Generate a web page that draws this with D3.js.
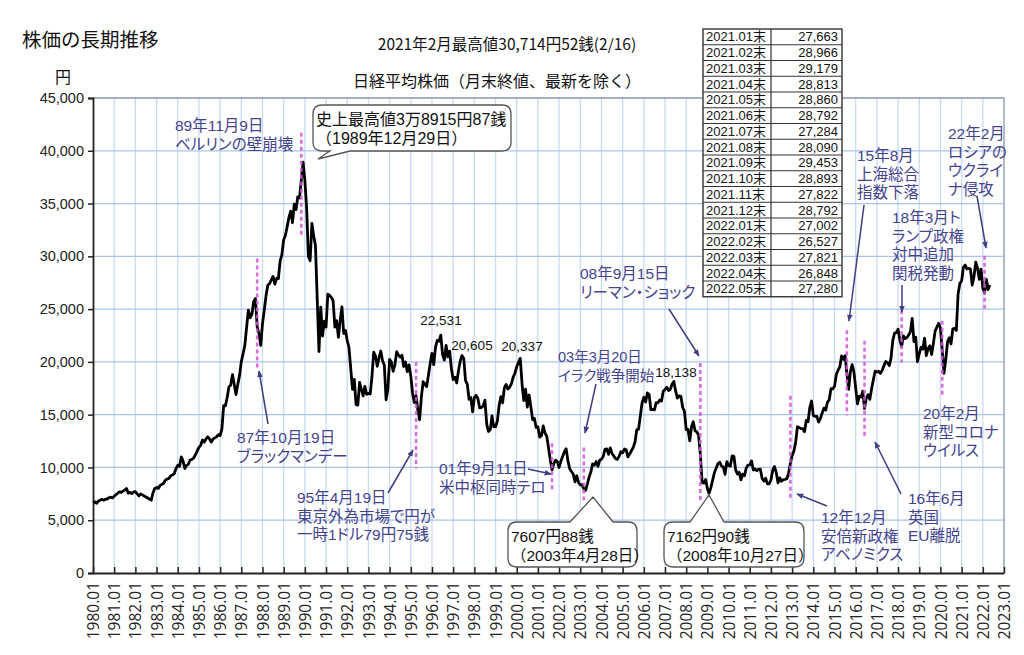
<!DOCTYPE html>
<html>
<head>
<meta charset="utf-8">
<script src="https://cdn.jsdelivr.net/npm/d3@7"></script>
<style>
body{margin:0;background:#fff;}
svg{display:block;}
.jp{font-family:"Noto Sans CJK JP",sans-serif;}
.mix{font-family:"Liberation Sans","Noto Sans CJK JP",sans-serif;font-feature-settings:"palt";}
.mixw{font-family:"Liberation Sans","Noto Sans CJK JP",sans-serif;}
.num{font-family:"Liberation Sans",Arial,sans-serif;}
</style>
</head>
<body>
<div id="chart"></div>
<script>

// monthly closes (月末終値)
var closes1980s = [
	6680,6760,6600,6800,6900,6980,6900,6990,7010,7130,7180,7116,
	7280,7420,7560,7680,7640,7760,7860,8000,7560,7640,7520,7681,
	7700,7500,7300,7500,7400,7300,7200,7100,7000,6900,7600,8016,
	8100,8000,8300,8400,8500,8800,8900,8950,9200,9300,9400,9893,
	10200,10100,11000,10600,9900,10200,10300,10700,10750,10900,11200,11542,
	11900,12100,12600,12400,12700,12900,12700,12400,12700,12800,12900,13113,
	13020,13640,15860,15830,16620,17650,17800,18800,17850,16910,17850,18701,
	20020,20770,21570,23270,24900,24180,24490,25700,26010,23330,22690,21564,
	23620,24900,26260,27260,27420,27770,28100,27370,27920,27900,29580,30159,
	31580,31990,32840,33710,34270,33190,34950,34430,35640,35550,37270,38916
];
var closes1990s = [
	37189,34592,29980,29585,33131,31940,31035,25978,20984,25194,22454,23849,
	23293,26409,26292,26111,25790,23291,23900,22336,23916,25222,22687,22984,
	22023,21339,19346,17391,18348,15952,15910,18061,17399,16767,17684,16925,
	17024,16953,18591,20919,20552,19590,20380,21027,20106,19703,16408,17417,
	20229,19997,19112,19725,20974,20644,20449,20629,19564,19990,19076,19723,
	18650,17053,16140,16807,15437,14517,16678,18117,17913,17655,18744,19868,
	20813,19734,21407,22041,21956,22531,20693,20167,21556,20467,21020,19361,
	18330,18557,18003,19151,20069,20605,20331,18229,17888,16459,16636,15259,
	16628,16831,16527,15641,15671,15830,16379,14108,13406,13564,14883,13842,
	13859,14368,15837,16702,16112,17530,17862,17437,17605,17942,18558,18934
];
var closes2000s = [
	19540,19960,20337,17974,16332,17411,15727,16861,15747,14540,14649,13786,
	13844,12884,13000,13934,13262,12969,11861,10714,9775,10366,10697,10543,
	9998,10588,11025,11493,11764,10622,9878,9620,9383,8640,9216,8579,
	8340,8363,7973,7831,8425,9083,9563,10344,10219,10560,10101,10677,
	10784,11042,11715,11762,11236,11859,11326,11082,10824,10771,11069,11489,
	11388,11741,11669,11009,11277,11584,11900,12414,13574,13607,14872,16111,
	16650,16206,17060,16907,15468,15505,15457,16141,16128,16399,16274,17226,
	17383,17604,17288,17400,17876,18138,17249,16569,16786,16737,15681,15308,
	13592,13604,12526,13850,14339,13482,13377,13073,11260,8577,8512,8860,
	7994,7568,8110,8828,9523,9958,10357,10493,10134,10035,9346,10546
];
var closes2010s = [
	10198,10126,11090,11057,9769,9383,9537,8824,9369,9202,9937,10229,
	10238,10624,9755,9850,9694,9816,9833,8955,8700,8988,8435,8455,
	8803,9723,10084,9521,8543,9007,8695,8840,8870,8928,9446,10395,
	11139,11559,12398,13861,13775,13677,13668,13389,14456,14328,15662,16291,
	14915,14841,14828,14304,14632,15162,15621,15425,16174,16414,17460,17451,
	17674,18798,19207,19520,20563,20236,20585,18890,17388,19083,19747,19034,
	17518,16027,16759,16666,17235,15576,16569,16887,16450,17425,18308,19114,
	19041,19119,18909,19197,19651,20033,19925,19646,20356,22012,22725,22765,
	23098,22068,21454,22468,22202,22305,22554,22865,24120,21920,22351,20015,
	20773,21385,21206,22259,20601,21276,21521,20704,21756,22927,23294,23657
];
var closes2020 = [23205,21143,18917,20194,21878,22288,21710,23140,23185,22977,26434,27444];

// table in the upper right (2021.01 .. 2022.05)
var tableMonths = ["2021.01","2021.02","2021.03","2021.04","2021.05","2021.06","2021.07","2021.08",
	"2021.09","2021.10","2021.11","2021.12","2022.01","2022.02","2022.03","2022.04","2022.05"];
var tableValues = [27663,28966,29179,28813,28860,28792,27284,28090,29453,28893,27822,28792,27002,26527,27821,26848,27280];

var yTicks = [0,5000,10000,15000,20000,25000,30000,35000,40000,45000];
var xTickYears = d3.range(1980, 2024);

// events: month of the dashed marker and its extent (yen)
var eventMonths = ["1987.10","1989.11","1995.04","2001.09","2003.03","2008.09","2012.12","2015.08","2016.06","2018.03","2020.02","2022.02"];
var eventLo = [19200,32000,9900,7850,6900,6900,6900,14950,12850,19950,16800,24860];
var eventHi = [29800,41700,20000,12300,11900,19900,16800,23000,22000,24900,23900,30060];

var peakLabels = ["22,531","20,605","20,337","18,138"];

var W = 1024, H = 655;

var svg = d3.select("#chart").append("svg")
	.attr("width",W).attr("height",H)
	.attr("viewBox","0 0 "+W+" "+H);

var x = d3.scaleLinear().domain([1980,2023]).range([93,1004]),
	y = d3.scaleLinear().domain([0,45000]).range([573,98]);

function ym(s){ var p = s.split("."); return +p[0] + (+p[1]-1)/12; }

var series = [].concat(closes1980s, closes1990s, closes2000s, closes2010s, closes2020, tableValues)
	.map(function(v,i){ return {t:1980+i/12, v:v}; });

// grid
svg.append("g").selectAll("line").data(xTickYears.slice(1,-1)).enter().append("line")
	.attr("x1",function(d){return x(d)}).attr("x2",function(d){return x(d)})
	.attr("y1",y(45000)).attr("y2",y(0))
	.style("stroke","#cbdaf3").style("stroke-width",1.3);

svg.append("g").selectAll("line").data(yTicks.slice(1,-1)).enter().append("line")
	.attr("x1",x(1980)).attr("x2",x(2023))
	.attr("y1",function(d){return y(d)}).attr("y2",function(d){return y(d)})
	.style("stroke","#a9c3ec").style("stroke-width",1.3);

// frame top / right
svg.append("path")
	.attr("d","M"+x(1980)+","+y(45000)+"H"+x(2023)+"V"+y(0))
	.style("fill","none").style("stroke","#8a96aa").style("stroke-width",1.3);

// axes
var yAxis = svg.append("g").attr("transform","translate("+x(1980)+",0)")
	.call(d3.axisLeft(y).tickValues(yTicks).tickSize(5).tickPadding(4).tickFormat(d3.format(",")));
yAxis.selectAll("text").attr("class","num").style("font-size","14.5px").style("fill","#222");
yAxis.select(".domain").style("stroke","#222").style("stroke-width",1.8);
yAxis.selectAll(".tick line").style("stroke","#222").style("stroke-width",1.5);

var xAxis = svg.append("g").attr("transform","translate(0,"+y(0)+")")
	.call(d3.axisBottom(x).tickValues(xTickYears).tickSize(-6).tickSizeOuter(0)
		.tickFormat(function(d){return d+".01"}));
xAxis.selectAll("text")
	.attr("transform","rotate(-90)").attr("x",-9).attr("y",0).attr("dy","0.36em")
	.style("text-anchor","end")
	.style("font-family","'Open Sans',sans-serif").style("font-size","15.5px").style("fill","#222");
xAxis.select(".domain").style("stroke","#222").style("stroke-width",1.8);
xAxis.selectAll(".tick line").style("stroke","#222").style("stroke-width",1.5);

// price line
var line = d3.line().x(function(d){return x(d.t)}).y(function(d){return y(d.v)});
svg.append("path").datum(series)
	.attr("d",line)
	.style("fill","none").style("stroke","#000").style("stroke-width",2.8)
	.style("stroke-linejoin","round");

// dashed event markers
svg.append("g").selectAll("line").data(eventMonths).enter().append("line")
	.attr("x1",function(d){return x(ym(d))}).attr("x2",function(d){return x(ym(d))})
	.attr("y1",function(d,i){return y(eventHi[i])}).attr("y2",function(d,i){return y(eventLo[i])})
	.style("stroke","#d058dc").style("stroke-width",2.6).style("stroke-dasharray","4,3")
	.style("opacity",0.85);

// arrows
svg.append("defs").append("marker")
	.attr("id","arr").attr("viewBox","0 0 10 8").attr("refX",9).attr("refY",4)
	.attr("markerWidth",7).attr("markerHeight",6).attr("markerUnits","userSpaceOnUse")
	.attr("orient","auto")
	.append("path").attr("d","M0,0L10,4L0,8Z").style("fill","#3e3e80");

var arrows = [
	[268,424,259,371],[388,493,413,450],[528,469,551,474],[596,384,585,433],
	[669,309,699,356],[827,506,797,494],[901,494,875,442],[864,205,849,321],
	[902,285,902,312],[977,196,986,248]
];
svg.append("g").selectAll("line").data(arrows).enter().append("line")
	.attr("x1",function(d){return d[0]}).attr("y1",function(d){return d[1]})
	.attr("x2",function(d){return d[2]}).attr("y2",function(d){return d[3]})
	.style("stroke","#3e3e80").style("stroke-width",1.5)
	.attr("marker-end","url(#arr)");

// event notes
var notes = [
	{x:175,y:125,lines:["89年11月9日","ベルリンの壁崩壊"]},
	{x:237,y:437,lines:["87年10月19日","ブラックマンデー"]},
	{x:297,y:497,lines:["95年4月19日","東京外為市場で円が","一時1ドル79円75銭"]},
	{x:439,y:468,lines:["01年9月11日","米中枢同時テロ"]},
	{x:558,y:357,fs:14.5,lines:["03年3月20日","イラク戦争開始"]},
	{x:580,y:273,lines:["08年9月15日","リーマン・ショック"]},
	{x:821,y:517,lines:["12年12月","安倍新政権","アベノミクス"]},
	{x:908,y:498,lines:["16年6月","英国","EU離脱"]},
	{x:923,y:413,lines:["20年2月","新型コロナ","ウイルス"]},
	{x:857,y:155,lines:["15年8月","上海総合","指数下落"]},
	{x:892,y:217,lines:["18年3月ト","ランプ政権","対中追加","関税発動"]},
	{x:948,y:133,lines:["22年2月","ロシアの","ウクライ","ナ侵攻"]}
];
var ng = svg.append("g").selectAll("text").data(notes).enter().append("text")
	.attr("class","mix")
	.style("font-size",function(d){return (d.fs || 15.5)+"px"}).style("fill","#44448e")
	.attr("dominant-baseline","central");
ng.selectAll("tspan").data(function(d){return d.lines.map(function(s,i){return {s:s,x:d.x,y:d.y+i*18.5}})})
	.enter().append("tspan")
	.attr("x",function(d){return d.x}).attr("y",function(d){return d.y})
	.text(function(d){return d.s});

// peak value labels
var peakPos = [[441,320],[472,345],[522,346],[676,372]];
svg.append("g").selectAll("text").data(peakLabels).enter().append("text")
	.attr("class","num")
	.attr("x",function(d,i){return peakPos[i][0]}).attr("y",function(d,i){return peakPos[i][1]})
	.attr("text-anchor","middle").attr("dominant-baseline","central")
	.style("font-size","13.5px").style("fill","#111")
	.text(function(d){return d});

// speech bubbles
function bubble(b){
	var p = d3.path(), r = b.r, t = b.tail;
	p.moveTo(b.x0+r,b.y0);
	if(t.edge=="top"){ p.lineTo(t.a,b.y0); p.lineTo(t.tx,t.ty); p.lineTo(t.c,b.y0); }
	p.lineTo(b.x1-r,b.y0); p.quadraticCurveTo(b.x1,b.y0,b.x1,b.y0+r);
	p.lineTo(b.x1,b.y1-r); p.quadraticCurveTo(b.x1,b.y1,b.x1-r,b.y1);
	if(t.edge=="bottom"){ p.lineTo(t.c,b.y1); p.lineTo(t.tx,t.ty); p.lineTo(t.a,b.y1); }
	p.lineTo(b.x0+r,b.y1); p.quadraticCurveTo(b.x0,b.y1,b.x0,b.y1-r);
	p.lineTo(b.x0,b.y0+r); p.quadraticCurveTo(b.x0,b.y0,b.x0+r,b.y0);
	p.closePath();
	return p.toString();
}
var bubbles = [
	{x0:313,y0:105,x1:511,y1:151,r:9,fs:16,tail:{edge:"bottom",a:330,c:350,tx:318,ty:159},
		lines:["史上最高値3万8915円87銭","（1989年12月29日）"]},
	{x0:508,y0:522,x1:637,y1:567,r:9,fs:15.5,tail:{edge:"top",a:570,c:613,tx:593,ty:497},
		lines:["7607円88銭","（2003年4月28日）"]},
	{x0:664,y0:522,x1:804,y1:567,r:9,fs:15.5,tail:{edge:"top",a:690,c:724,tx:709,ty:495},
		lines:["7162円90銭","（2008年10月27日）"]}
];
var bg = svg.append("g").selectAll("g").data(bubbles).enter().append("g");
bg.append("path").attr("d",bubble)
	.style("fill","#fff").style("stroke","#555").style("stroke-width",1.3);
bg.append("text").attr("class","mixw")
	.style("font-size",function(d){return d.fs+"px"}).style("fill","#111").attr("dominant-baseline","central")
	.selectAll("tspan").data(function(d){return d.lines.map(function(s,i){return {s:s,x:d.x0+3,y:d.y0+14+i*18.5}})})
	.enter().append("tspan")
	.attr("x",function(d){return d.x}).attr("y",function(d){return d.y})
	.text(function(d){return d.s});

// table
var tx0 = 703, tx1 = 771, tx2 = 842, ty0 = 29, rowH = 15.75;
var tg = svg.append("g");
tg.append("rect").attr("x",tx0).attr("y",ty0).attr("width",tx2-tx0).attr("height",rowH*tableMonths.length)
	.style("fill","#fff").style("stroke","#333").style("stroke-width",1.4);
tg.selectAll(".row").data(tableMonths.slice(1)).enter().append("line")
	.attr("x1",tx0).attr("x2",tx2)
	.attr("y1",function(d,i){return ty0+(i+1)*rowH}).attr("y2",function(d,i){return ty0+(i+1)*rowH})
	.style("stroke","#333").style("stroke-width",1.2);
tg.append("line").attr("x1",tx1).attr("x2",tx1).attr("y1",ty0).attr("y2",ty0+rowH*tableMonths.length)
	.style("stroke","#333").style("stroke-width",1.2);
tg.selectAll(".m").data(tableMonths).enter().append("text")
	.attr("class","mixw")
	.attr("x",tx0+3).attr("y",function(d,i){return ty0+(i+0.5)*rowH})
	.attr("dominant-baseline","central")
	.style("font-size","13px").style("fill","#111")
	.text(function(d){return d+"末"});
tg.selectAll(".v").data(tableValues).enter().append("text")
	.attr("class","num")
	.attr("x",tx2-4).attr("y",function(d,i){return ty0+(i+0.5)*rowH})
	.attr("text-anchor","end").attr("dominant-baseline","central")
	.style("font-size","13px").style("fill","#111")
	.text(function(d){return d3.format(",")(d)});

// titles
svg.append("text").attr("class","jp").attr("x",22).attr("y",38)
	.attr("dominant-baseline","central").style("font-size","19.5px").style("fill","#111")
	.text("株価の長期推移");
svg.append("text").attr("class","jp").attr("x",507).attr("y",43)
	.attr("text-anchor","middle").attr("dominant-baseline","central")
	.style("font-size","15.5px").style("fill","#111")
	.text("2021年2月最高値30,714円52銭(2/16)");
svg.append("text").attr("class","jp").attr("x",55).attr("y",76)
	.attr("dominant-baseline","central").style("font-size","16px").style("fill","#111")
	.text("円");
svg.append("text").attr("class","jp").attr("x",497).attr("y",80)
	.attr("text-anchor","middle").attr("dominant-baseline","central")
	.style("font-size","16px").style("fill","#111")
	.text("日経平均株価（月末終値、最新を除く）");

</script>
</body>
</html>
